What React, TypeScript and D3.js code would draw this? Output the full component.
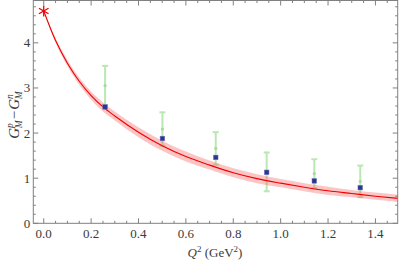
import * as d3 from 'd3'

// theory curve G_M^p - G_M^n
const curveQ2 = [0, 0.05, 0.1, 0.15, 0.2, 0.25, 0.3, 0.4, 0.5, 0.6, 0.7, 0.8, 0.9, 1.0, 1.1, 1.2, 1.3, 1.4, 1.5]
const curveVal = [4.706, 4.05, 3.55, 3.15, 2.83, 2.58, 2.38, 2.02, 1.72, 1.48, 1.29, 1.12, 0.99, 0.89, 0.8, 0.72, 0.66, 0.6, 0.55]
const curveErr = [0.0, 0.05, 0.07, 0.08, 0.09, 0.1, 0.1, 0.11, 0.11, 0.11, 0.1, 0.1, 0.1, 0.09, 0.09, 0.09, 0.08, 0.08, 0.08]

// lattice points (blue squares)
const latQ2 = [0.259, 0.501, 0.726, 0.941, 1.142, 1.336]
const latVal = [2.58, 1.88, 1.46, 1.13, 0.94, 0.79]

// experimental points (green error bars)
const expVal = [3.05, 2.09, 1.66, 1.14, 1.1, 0.93]
const expErr = [0.44, 0.37, 0.36, 0.43, 0.32, 0.35]

const xTicks = [0, 0.2, 0.4, 0.6, 0.8, 1.0, 1.2, 1.4]
const yTicks = [0, 1, 2, 3, 4]

const W = 399
const H = 265
const left = 33.3
const right = 397.7
const top = 0.5
const bottom = 223.3

const font = '"Liberation Serif", "DejaVu Serif", serif'

const App = () => {
  const x = d3.scaleLinear().domain([-0.044, 1.494]).range([left, right])
  const y = d3.scaleLinear().domain([0, 4.95]).range([bottom, 0])

  const xMinor = d3.range(0.05, 1.49, 0.05).map((v) => +v.toFixed(2))
  const yMinor = d3.range(0.2, 4.95, 0.2).map((v) => +v.toFixed(1))

  const pts = curveQ2.map((q, i) => ({ q, v: curveVal[i], e: curveErr[i] }))
  const line = d3
    .line<any>()
    .x((d) => x(d.q))
    .y((d) => y(d.v))
    .curve(d3.curveMonotoneX)
  const band = d3
    .area<any>()
    .x((d) => x(d.q))
    .y0((d) => y(d.v - d.e))
    .y1((d) => y(d.v + d.e))
    .curve(d3.curveMonotoneX)

  const axisColor = '#808080'
  const textColor = '#3a3a3a'

  const ax = x(0)
  const ay = y(4.706)

  return (
    <div style={{ position: 'absolute', left: 0, top: 0 }}>
      <svg width={W} height={H} style={{ display: 'block', fontFamily: font }}>
        <defs>
          <clipPath id='plot'>
            <rect x={left} y={0} width={right - left} height={bottom} />
          </clipPath>
        </defs>

        {/* experimental error bars */}
        <g stroke='#b9e8b2' strokeWidth={2}>
          {latQ2.map((q, i) => (
            <g key={i}>
              <line x1={x(q)} x2={x(q)} y1={y(expVal[i] - expErr[i])} y2={y(expVal[i] + expErr[i])} />
              <line x1={x(q) - 3} x2={x(q) + 3} y1={y(expVal[i] + expErr[i])} y2={y(expVal[i] + expErr[i])} />
              <line x1={x(q) - 3} x2={x(q) + 3} y1={y(expVal[i] - expErr[i])} y2={y(expVal[i] - expErr[i])} />
              <circle cx={x(q)} cy={y(expVal[i])} r={1.6} fill='#a3dc9b' stroke='none' />
            </g>
          ))}
        </g>

        <g clipPath='url(#plot)'>
          <path d={band(pts) || ''} fill='rgba(245, 80, 80, 0.33)' />
          <path d={line(pts) || ''} fill='none' stroke='#f00000' strokeWidth={1.1} />
        </g>

        {/* lattice points */}
        {latQ2.map((q, i) => (
          <rect key={i} x={x(q) - 2.3} y={y(latVal[i]) - 2.3} width={4.6} height={4.6} fill='#2e3494' stroke='#6f73b8' strokeWidth={0.5} />
        ))}

        {/* physical point at Q^2 = 0 */}
        <g stroke='#f00000' strokeWidth={1.3}>
          <line x1={ax} x2={ax} y1={ay - 5.5} y2={ay + 5.5} />
          <line x1={ax - 4.8} x2={ax + 4.8} y1={ay - 2.8} y2={ay + 2.8} />
          <line x1={ax - 4.8} x2={ax + 4.8} y1={ay + 2.8} y2={ay - 2.8} />
        </g>

        {/* frame */}
        <rect x={left} y={top} width={right - left} height={bottom - top} fill='none' stroke={axisColor} strokeWidth={1} />

        {/* ticks */}
        <g stroke={axisColor} strokeWidth={1}>
          {xTicks.map((t) => (
            <g key={'xt' + t}>
              <line x1={x(t)} x2={x(t)} y1={bottom} y2={bottom - 5} />
              <line x1={x(t)} x2={x(t)} y1={top} y2={top + 5} />
            </g>
          ))}
          {xMinor
            .filter((t) => !xTicks.some((m) => Math.abs(m - t) < 1e-6))
            .map((t) => (
              <g key={'xm' + t}>
                <line x1={x(t)} x2={x(t)} y1={bottom} y2={bottom - 2.5} />
                <line x1={x(t)} x2={x(t)} y1={top} y2={top + 2.5} />
              </g>
            ))}
          {yTicks.map((t) => (
            <g key={'yt' + t}>
              <line x1={left} x2={left + 5} y1={y(t)} y2={y(t)} />
              <line x1={right} x2={right - 5} y1={y(t)} y2={y(t)} />
            </g>
          ))}
          {yMinor
            .filter((t) => !yTicks.some((m) => Math.abs(m - t) < 1e-6))
            .map((t) => (
              <g key={'ym' + t}>
                <line x1={left} x2={left + 2.5} y1={y(t)} y2={y(t)} />
                <line x1={right} x2={right - 2.5} y1={y(t)} y2={y(t)} />
              </g>
            ))}
        </g>

        {/* tick labels */}
        <g fill={textColor} fontSize={13} style={{ fontFamily: font }}>
          {xTicks.map((t) => (
            <text key={'xl' + t} x={x(t)} y={bottom + 15} textAnchor='middle'>
              {d3.format('.1f')(t)}
            </text>
          ))}
          {yTicks.map((t) => (
            <text key={'yl' + t} x={left - 3} y={y(t) + 4.5} textAnchor='end'>
              {t}
            </text>
          ))}
        </g>

        {/* axis titles */}
        <text x={215} y={257} textAnchor='middle' fontSize={13} fill={textColor} style={{ fontFamily: font }}>
          <tspan fontStyle='italic'>Q</tspan>
          <tspan dy={-5} fontSize={9}>2</tspan>
          <tspan dy={5}> (GeV</tspan>
          <tspan dy={-5} fontSize={9}>2</tspan>
          <tspan dy={5}>)</tspan>
        </text>
        <text transform='translate(19, 115) rotate(-90)' textAnchor='middle' fontSize={15} fill={textColor} style={{ fontFamily: font }}>
          <tspan fontStyle='italic'>G</tspan>
          <tspan dy={-6} fontSize={9.5} fontStyle='italic'>p</tspan>
          <tspan dx={-5} dy={9} fontSize={9.5} fontStyle='italic'>M</tspan>
          <tspan dx={1} dy={-3}>−</tspan>
          <tspan dx={1} fontStyle='italic'>G</tspan>
          <tspan dy={-6} fontSize={9.5} fontStyle='italic'>n</tspan>
          <tspan dx={-5} dy={9} fontSize={9.5} fontStyle='italic'>M</tspan>
        </text>
      </svg>
    </div>
  )
}

export default App
